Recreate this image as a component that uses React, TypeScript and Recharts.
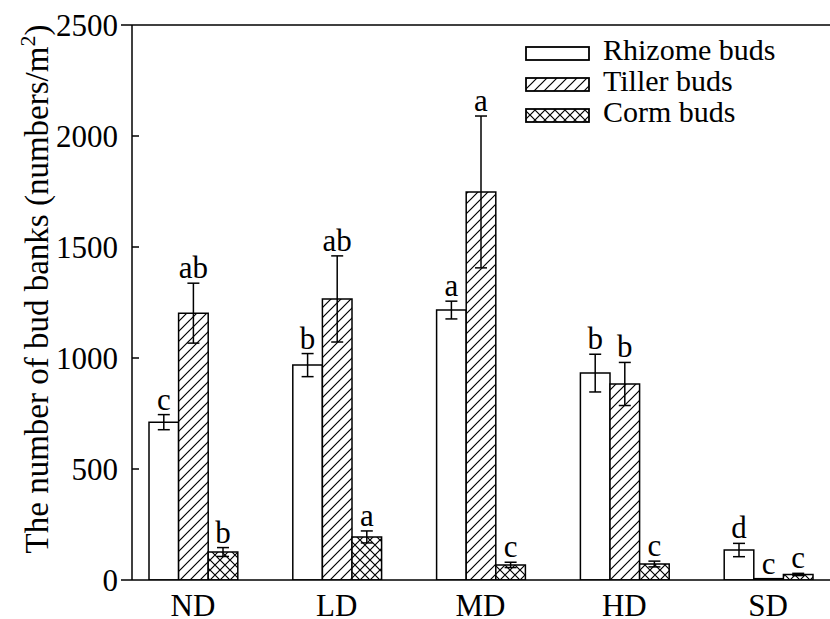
import React from "react";
import { BarChart, Bar, XAxis, YAxis, ErrorBar, LabelList, ReferenceLine, Label } from "recharts";

const categories = ["ND", "LD", "MD", "HD", "SD"];
const rhizome = [711, 968, 1216, 932, 135];
const rhizomeErr = [34, 52, 40, 85, 30];
const tiller = [1202, 1266, 1748, 883, 6];
const tillerErr = [135, 194, 342, 97, 0];
const corm = [126, 194, 68, 72, 25];
const cormErr = [20, 27, 12, 13, 5];
const rhizomeLetters = ["c", "b", "a", "b", "d"];
const tillerLetters = ["ab", "ab", "a", "b", "c"];
const cormLetters = ["b", "a", "c", "c", "c"];
const yTicks = [0, 500, 1000, 1500, 2000, 2500];

const seriesNames = ["Rhizome buds", "Tiller buds", "Corm buds"];
const seriesFills = ["#fff", "url(#tillerHatch)", "url(#cormHatch)"];

const FONT = "Liberation Serif";
const FS = 31;

const data = categories.map((name, i) => ({
  name,
  rhizome: rhizome[i],
  rhizomeErr: rhizomeErr[i],
  tiller: tiller[i],
  tillerErr: tillerErr[i],
  corm: corm[i],
  cormErr: cormErr[i],
}));

const makeLetter = (letters: string[], values: number[], errs: number[]) => (props: any) => {
  const vb = props.viewBox || props;
  const x = vb.x ?? props.x;
  const y = vb.y ?? props.y;
  const width = vb.width ?? props.width;
  const height = vb.height ?? props.height;
  const i = props.index;
  const v = values[i];
  const pxPer = v ? Math.abs(height) / v : 0;
  const top = y - errs[i] * pxPer;
  return (
    <text x={x + width / 2} y={top - 5} textAnchor="middle" fontSize={FS} fontFamily={FONT} fill="#000">
      {letters[i]}
    </text>
  );
};

const YTick = (props: any) => {
  const { x, y, payload } = props;
  const edge = payload.value === 0 || payload.value === 2500;
  return (
    <g>
      {edge ? (
        <line x1={x - 11} y1={y} x2={x} y2={y} stroke="#000" strokeWidth={1.5} />
      ) : (
        <line x1={x} y1={y} x2={x + 7} y2={y} stroke="#000" strokeWidth={1.5} />
      )}
      <text x={x - 14} y={y} dy="0.34em" textAnchor="end" fontSize={FS} fontFamily={FONT} fill="#000">
        {payload.value}
      </text>
    </g>
  );
};

const YLabel = () => (
  <text
    x={48}
    y={289}
    transform="rotate(-90 48 289)"
    textAnchor="middle"
    fontSize={33}
    fontFamily={FONT}
    fill="#000"
  >
    The number of bud banks (numbers/m
    <tspan dy={-13} fontSize={22}>2</tspan>
    <tspan dy={13}>)</tspan>
  </text>
);

const LegendBox = () => (
  <svg width={300} height={100} style={{ position: "absolute", left: 520, top: 35 }}>
    {seriesNames.map((n, i) => (
      <g key={n}>
        <rect x={6} y={12 + i * 31} width={63} height={13} fill={seriesFills[i]} stroke="#000" strokeWidth={1.8} />
        <text x={83} y={25 + i * 31} fontSize={30} fontFamily={FONT} fill="#000">
          {n}
        </text>
      </g>
    ))}
  </svg>
);

export default function App() {
  return (
    <div style={{ position: "absolute", left: 0, top: 0, width: 830, height: 619, overflow: "hidden", background: "#fff" }}>
      <BarChart
        width={830}
        height={619}
        data={data}
        margin={{ top: 25, right: 0, bottom: 0, left: 0 }}
        barGap={0}
      >
        <defs>
          <pattern id="tillerHatch" patternUnits="userSpaceOnUse" width={10} height={10}>
            <rect width={10} height={10} fill="#fff" />
            <path d="M-1,1 l2,-2 M0,10 l10,-10 M9,11 l2,-2" stroke="#000" strokeWidth={1.2} />
          </pattern>
          <pattern id="cormHatch" patternUnits="userSpaceOnUse" width={10} height={10}>
            <rect width={10} height={10} fill="#fff" />
            <path d="M0,0 L10,10 M10,0 L0,10" stroke="#000" strokeWidth={1.2} />
          </pattern>
        </defs>
        <XAxis
          dataKey="name"
          padding={{ left: -11, right: -10 }}
          tickLine={false}
          tickSize={0}
          tickMargin={14}
          axisLine={{ stroke: "#000", strokeWidth: 1.5 }}
          tick={{ fontSize: FS, fontFamily: FONT, fill: "#000" }}
          height={39}
        />
        <YAxis
          width={132}
          domain={[0, 2500]}
          ticks={yTicks}
          allowDataOverflow
          tickLine={false}
          tickSize={0}
          tickMargin={0}
          axisLine={{ stroke: "#000", strokeWidth: 1.5 }}
          tick={<YTick />}
        >
          <Label content={<YLabel />} />
        </YAxis>
        <ReferenceLine y={2500} stroke="#000" strokeWidth={1.5} />
        <Bar dataKey="rhizome" name={seriesNames[0]} fill={seriesFills[0]} stroke="#000" strokeWidth={1.5} barSize={29.6} isAnimationActive={false}>
          <ErrorBar dataKey="rhizomeErr" width={6} stroke="#000" strokeWidth={1.5} />
          <LabelList dataKey="rhizome" content={makeLetter(rhizomeLetters, rhizome, rhizomeErr)} />
        </Bar>
        <Bar dataKey="tiller" name={seriesNames[1]} fill={seriesFills[1]} stroke="#000" strokeWidth={1.5} barSize={29.6} isAnimationActive={false}>
          <ErrorBar dataKey="tillerErr" width={6} stroke="#000" strokeWidth={1.5} />
          <LabelList dataKey="tiller" content={makeLetter(tillerLetters, tiller, tillerErr)} />
        </Bar>
        <Bar dataKey="corm" name={seriesNames[2]} fill={seriesFills[2]} stroke="#000" strokeWidth={1.5} barSize={29.6} isAnimationActive={false}>
          <ErrorBar dataKey="cormErr" width={6} stroke="#000" strokeWidth={1.5} />
          <LabelList dataKey="corm" content={makeLetter(cormLetters, corm, cormErr)} />
        </Bar>
      </BarChart>
      <LegendBox />
    </div>
  );
}
